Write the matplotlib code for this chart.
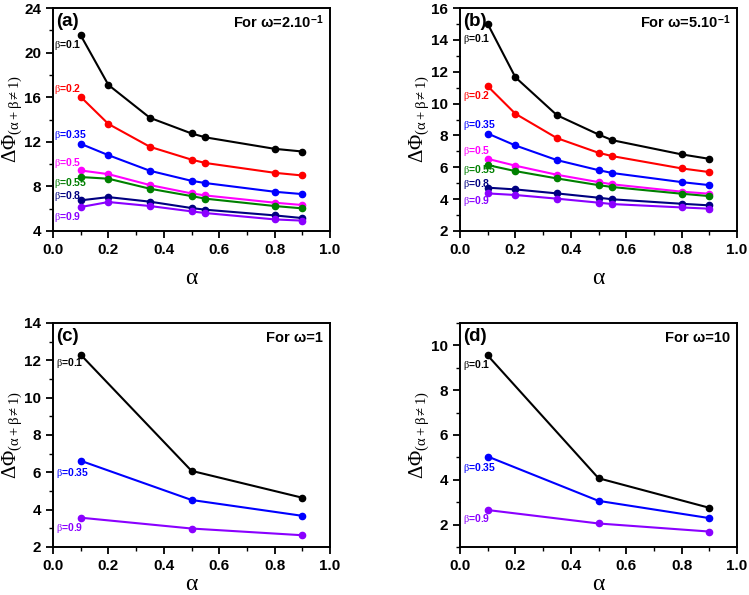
import matplotlib
matplotlib.use("Agg")
import matplotlib.pyplot as plt
from matplotlib.ticker import MultipleLocator

plt.rcParams['font.family'] = ['Liberation Sans', 'DejaVu Sans']
plt.rcParams['mathtext.fontset'] = 'custom'
plt.rcParams['mathtext.rm'] = 'Liberation Serif'
plt.rcParams['mathtext.it'] = 'Liberation Serif'
plt.rcParams['mathtext.bf'] = 'Liberation Sans:bold'
plt.rcParams['mathtext.sf'] = 'Liberation Sans:bold'
plt.rcParams['mathtext.default'] = 'rm'

# alpha values
alpha_ab = [0.1, 0.2, 0.35, 0.5, 0.55, 0.8, 0.9]
alpha_cd = [0.1, 0.5, 0.9]

betas_ab = ['0.1', '0.2', '0.35', '0.5', '0.55', '0.8', '0.9']
betas_cd = ['0.1', '0.35', '0.9']

colors_ab = ['black', '#ff0000', '#0000ff', '#ff00ff', '#008000', '#000080', '#8a00ff']
colors_cd = ['black', '#0000ff', '#8a00ff']

xticks = [0.0, 0.2, 0.4, 0.6, 0.8, 1.0]

# (a) omega = 2.10^-1
a_b01 = [21.55, 17.1, 14.15, 12.75, 12.4, 11.37, 11.13]
a_b02 = [16.03, 13.6, 11.55, 10.4, 10.1, 9.22, 8.98]
a_b035 = [11.82, 10.8, 9.4, 8.5, 8.3, 7.52, 7.31]
a_b05 = [9.43, 9.1, 8.12, 7.37, 7.19, 6.54, 6.33]
a_b055 = [8.84, 8.69, 7.79, 7.13, 6.9, 6.24, 6.03]
a_b08 = [6.75, 7.04, 6.63, 6.06, 5.91, 5.4, 5.16]
a_b09 = [6.15, 6.6, 6.24, 5.76, 5.61, 5.04, 4.93]

# (b) omega = 5.10^-1
b_b01 = [15.0, 11.65, 9.27, 8.06, 7.7, 6.81, 6.53]
b_b02 = [11.09, 9.36, 7.83, 6.91, 6.7, 5.93, 5.7]
b_b035 = [8.12, 7.37, 6.45, 5.82, 5.64, 5.07, 4.88]
b_b05 = [6.53, 6.1, 5.53, 5.07, 4.93, 4.47, 4.34]
b_b055 = [6.14, 5.76, 5.3, 4.88, 4.76, 4.34, 4.19]
b_b08 = [4.72, 4.61, 4.36, 4.09, 3.99, 3.71, 3.61]
b_b09 = [4.36, 4.26, 4.03, 3.78, 3.69, 3.48, 3.4]

# (c) omega = 1
c_b01 = [12.3, 6.08, 4.64]
c_b035 = [6.62, 4.52, 3.67]
c_b09 = [3.57, 2.99, 2.63]

# (d) omega = 10
d_b01 = [9.55, 4.07, 2.75]
d_b035 = [5.04, 3.06, 2.29]
d_b09 = [2.65, 2.05, 1.69]

panels = [
    dict(tag='(a)', title=r'For ω=2.10$^{\mathsf{-1}}$', x=alpha_ab,
         ys=[a_b01, a_b02, a_b035, a_b05, a_b055, a_b08, a_b09], betas=betas_ab,
         colors=colors_ab, ylim=(4, 24), yticks=[4, 8, 12, 16, 20, 24], yminor=2,
         label_y=[20.7, 16.75, 12.57, 10.06, 8.3, 7.15, 5.28], label_x=0.005,
         xlab_y=-0.16),
    dict(tag='(b)', title=r'For ω=5.10$^{\mathsf{-1}}$', x=alpha_ab,
         ys=[b_b01, b_b02, b_b035, b_b05, b_b055, b_b08, b_b09], betas=betas_ab,
         colors=colors_ab, ylim=(2, 16), yticks=[2, 4, 6, 8, 10, 12, 14, 16], yminor=1,
         label_y=[14.06, 10.46, 8.65, 7.0, 5.8, 4.97, 3.88], label_x=0.012,
         xlab_y=-0.16),
    dict(tag='(c)', title='For ω=1', x=alpha_cd,
         ys=[c_b01, c_b035, c_b09], betas=betas_cd,
         colors=colors_cd, ylim=(2, 14), yticks=[2, 4, 6, 8, 10, 12, 14], yminor=1,
         label_y=[11.88, 5.95, 3.02], label_x=0.012,
         xlab_y=-0.115),
    dict(tag='(d)', title='For ω=10', x=alpha_cd,
         ys=[d_b01, d_b035, d_b09], betas=betas_cd,
         colors=colors_cd, ylim=(1, 11), yticks=[2, 4, 6, 8, 10], yminor=1,
         label_y=[9.12, 4.51, 2.27], label_x=0.012,
         xlab_y=-0.115),
]

fig = plt.figure(figsize=(7.49, 5.95), dpi=100)
W, H = 749, 595
boxes = [(53, 8, 330, 231), (460, 8, 737, 231), (53, 323, 330, 547), (460, 323, 737, 547)]

for p, (l, t, r, b) in zip(panels, boxes):
    ax = fig.add_axes([l / W, 1 - b / H, (r - l) / W, (b - t) / H])
    for y, c, beta, ly in zip(p['ys'], p['colors'], p['betas'], p['label_y']):
        ax.plot(p['x'], y, '-o', color=c, lw=1.5, ms=4.5, mfc=c, mec=c)
        ax.text(p['label_x'], ly, r'$\beta$=' + beta, color=c, fontsize=7.5,
                fontweight='bold', ha='left', va='center')
    ax.set_xlim(0, 1)
    ax.set_ylim(*p['ylim'])
    ax.set_xticks(xticks, [f'{v:.1f}' for v in xticks], fontweight='bold', fontsize=11)
    ax.xaxis.set_minor_locator(MultipleLocator(0.1))
    ax.set_yticks(p['yticks'], [str(v) for v in p['yticks']], fontweight='bold', fontsize=11)
    ax.yaxis.set_minor_locator(MultipleLocator(p['yminor']))
    ax.tick_params(which='major', direction='out', length=5, width=1.3)
    ax.tick_params(which='minor', direction='out', length=3, width=1.0)
    for s in ax.spines.values():
        s.set_linewidth(1.4)
    ax.set_xlabel(r'$\alpha$', fontsize=17)
    ax.xaxis.set_label_coords(0.5, p['xlab_y'])
    ax.set_ylabel(r'$\Delta\Phi_{(\alpha+\beta\neq1)}$', fontsize=15)
    ax.yaxis.set_label_coords(-0.105, 0.5)
    ax.text(0.01, 0.94, p['tag'], transform=ax.transAxes, fontsize=13.5,
            fontweight='bold', ha='left', va='center')
    ax.text(0.975, 0.935, p['title'], transform=ax.transAxes, fontsize=10.5,
            fontweight='bold', ha='right', va='center')

fig.savefig('out.png', dpi=100)
